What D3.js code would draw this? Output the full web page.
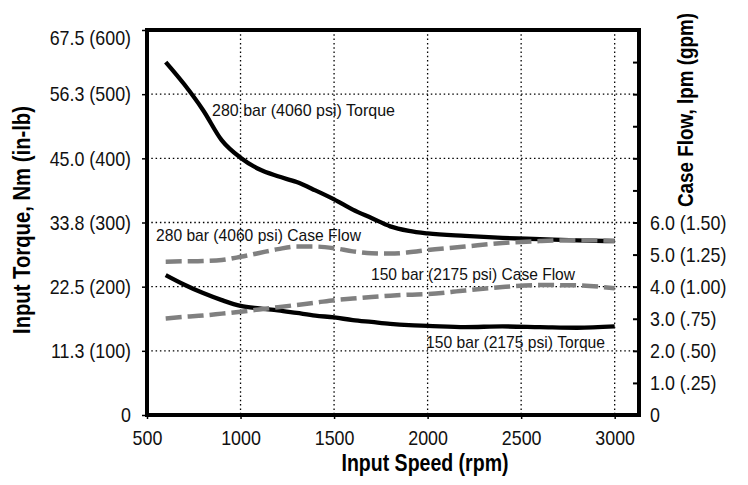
<!DOCTYPE html>
<html>
<head>
<meta charset="utf-8">
<script src="https://cdn.jsdelivr.net/npm/d3@7"></script>
<style>
  body { margin: 0; background: #fff; }
  svg text { font-family: "Liberation Sans", Arial, sans-serif; }
</style>
</head>
<body>
<div id="chart"></div>
<script>

// input speed, rpm
const speed = [600, 700, 800, 900, 1000, 1100, 1200, 1300, 1400, 1500, 1600, 1700, 1800, 1900, 2000, 2200, 2400, 2600, 2800, 3000];

// torque in in-lb (left axis)
const torque280 = [550, 515, 475, 428, 401, 383, 372, 363, 350, 336, 320, 307, 294, 287, 283, 279, 276, 274, 272, 271];
const torque150 = [218, 203, 190, 179, 170, 166, 163, 159, 155, 152, 148, 145, 142, 140, 139, 137, 138, 137, 136, 138];

// case flow in lpm (right axis)
const flow280 = [4.78, 4.79, 4.80, 4.83, 4.93, 5.05, 5.17, 5.25, 5.25, 5.20, 5.10, 5.04, 5.03, 5.07, 5.14, 5.25, 5.36, 5.42, 5.45, 5.43];
const flow150 = [3.01, 3.06, 3.10, 3.16, 3.22, 3.29, 3.36, 3.43, 3.50, 3.58, 3.63, 3.68, 3.72, 3.75, 3.77, 3.88, 3.99, 4.05, 4.04, 3.95];

// tick labels
const speedTicks = [500, 1000, 1500, 2000, 2500, 3000];
const torqueTicks = [0, 100, 200, 300, 400, 500, 600];
const torqueLabels = ["0", "11.3 (100)", "22.5 (200)", "33.8 (300)", "45.0 (400)", "56.3 (500)", "67.5 (600)"];
const flowTicks = [0, 1, 2, 3, 4, 5, 6, 7, 8, 9, 10, 11, 12];
const flowLabels = ["0", "1.0 (.25)", "2.0 (.50)", "3.0 (.75)", "4.0 (1.00)", "5.0 (1.25)", "6.0 (1.50)", "", "", "", "", "", ""];

const W = 748, H = 485;
const plotL = 147, plotR = 639, plotT = 30, plotB = 415;

const svg = d3.select("#chart").append("svg")
  .attr("width", W)
  .attr("height", H);

// squeeze a text horizontally, the original uses a narrow face
function narrow(sel, ratio) {
  sel.each(function () {
    const len = this.getComputedTextLength();
    if (len > 0) {
      d3.select(this)
        .attr("textLength", len * ratio)
        .attr("lengthAdjust", "spacingAndGlyphs");
    }
  });
}

const x = d3.scaleLinear().domain([500, 3130]).range([plotL, plotR]);
const yL = d3.scaleLinear().domain([0, 600]).range([plotB, plotT]);
const yR = d3.scaleLinear().domain([0, 12]).range([plotB, plotT]);

// grid
const grid = svg.append("g")
  .attr("stroke", "#000")
  .attr("stroke-width", 1.3)
  .attr("stroke-dasharray", "1.5,2.8");

grid.selectAll("line.v")
  .data(speedTicks.slice(1))
  .join("line")
  .attr("class", "v")
  .attr("x1", d => x(d)).attr("x2", d => x(d))
  .attr("y1", plotT).attr("y2", plotB);

grid.selectAll("line.h")
  .data(torqueTicks.slice(1, -1))
  .join("line")
  .attr("class", "h")
  .attr("x1", plotL).attr("x2", plotR)
  .attr("y1", d => yL(d)).attr("y2", d => yL(d));

// axes
const xAxis = svg.append("g")
  .attr("transform", `translate(0,${plotB})`)
  .call(d3.axisBottom(x).tickValues(speedTicks).tickFormat(d3.format("d")).tickSize(4).tickPadding(11));

const leftAxis = svg.append("g")
  .attr("transform", `translate(${plotL},0)`)
  .call(d3.axisLeft(yL).tickValues(torqueTicks).tickFormat((d, i) => torqueLabels[i]).tickSize(5).tickPadding(11));

const rightAxis = svg.append("g")
  .attr("transform", `translate(${plotR},0)`)
  .call(d3.axisRight(yR).tickValues(flowTicks).tickFormat((d, i) => flowLabels[i]).tickSize(-6).tickPadding(11));

[xAxis, leftAxis, rightAxis].forEach(a => {
  a.select(".domain").remove();
  a.selectAll("text").attr("font-size", 21).attr("fill", "#111").call(narrow, 0.85);
  a.selectAll(".tick line").attr("stroke", "#000").attr("stroke-width", 1.5);
});
rightAxis.selectAll(".tick line").attr("stroke-width", 2);
// top label sits a little below its tick
leftAxis.selectAll(".tick text").filter(d => d === 600).attr("dy", "0.7em");

// curves
const line = d3.line()
  .x(d => x(d[0]))
  .curve(d3.curveMonotoneX);

svg.append("path")
  .datum(speed.map((s, i) => [s, torque280[i]]))
  .attr("fill", "none").attr("stroke", "#000").attr("stroke-width", 4.3)
  .attr("d", line.y(d => yL(d[1])));

svg.append("path")
  .datum(speed.map((s, i) => [s, torque150[i]]))
  .attr("fill", "none").attr("stroke", "#000").attr("stroke-width", 4.3)
  .attr("d", line.y(d => yL(d[1])));

svg.append("path")
  .datum(speed.map((s, i) => [s, flow280[i]]))
  .attr("fill", "none").attr("stroke", "#808080").attr("stroke-width", 4.5)
  .attr("stroke-dasharray", "16,6")
  .attr("d", line.y(d => yR(d[1])));

svg.append("path")
  .datum(speed.map((s, i) => [s, flow150[i]]))
  .attr("fill", "none").attr("stroke", "#808080").attr("stroke-width", 4.5)
  .attr("stroke-dasharray", "16,6")
  .attr("d", line.y(d => yR(d[1])));

// frame
svg.append("rect")
  .attr("x", plotL).attr("y", plotT)
  .attr("width", plotR - plotL).attr("height", plotB - plotT)
  .attr("fill", "none").attr("stroke", "#000").attr("stroke-width", 4);

// curve labels
const labels = [
  { t: "280 bar (4060 psi) Torque", x: 212, y: 116, w: 183 },
  { t: "280 bar (4060 psi) Case Flow", x: 156, y: 241, w: 205 },
  { t: "150 bar (2175 psi) Case Flow", x: 371, y: 280, w: 204 },
  { t: "150 bar (2175 psi) Torque", x: 426, y: 348, w: 179 }
];
svg.selectAll("text.lbl")
  .data(labels)
  .join("text")
  .attr("class", "lbl")
  .attr("x", d => d.x).attr("y", d => d.y)
  .attr("font-size", 17)
  .attr("fill", "#111")
  .attr("textLength", d => d.w)
  .attr("lengthAdjust", "spacingAndGlyphs")
  .text(d => d.t);

// axis titles
svg.append("text")
  .attr("x", 425).attr("y", 471)
  .attr("text-anchor", "middle")
  .attr("font-size", 23).attr("font-weight", "bold")
  .attr("textLength", 167).attr("lengthAdjust", "spacingAndGlyphs")
  .text("Input Speed (rpm)");

svg.append("text")
  .attr("transform", "translate(30,220) rotate(-90)")
  .attr("text-anchor", "middle")
  .attr("font-size", 23).attr("font-weight", "bold")
  .attr("textLength", 228).attr("lengthAdjust", "spacingAndGlyphs")
  .text("Input Torque, Nm (in-lb)");

svg.append("text")
  .attr("transform", "translate(693,110) rotate(-90)")
  .attr("text-anchor", "middle")
  .attr("font-size", 22).attr("font-weight", "bold")
  .attr("textLength", 194).attr("lengthAdjust", "spacingAndGlyphs")
  .text("Case Flow, lpm (gpm)");

</script>
</body>
</html>
